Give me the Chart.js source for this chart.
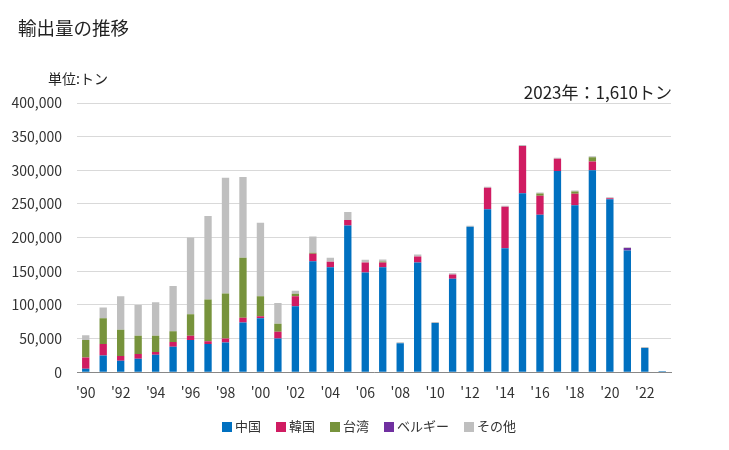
<!DOCTYPE html>
<html lang="ja">
<head>
<meta charset="utf-8">
<script src="https://cdn.jsdelivr.net/npm/chart.js@4/dist/chart.umd.min.js"></script>
<style>
    body { margin: 0; background: #fff; font-family: "Noto Sans CJK JP", sans-serif; }
    #wrap { position: relative; width: 729px; height: 450px; }
    #chart { position: absolute; left: 0; top: 0; }
    .txt { position: absolute; color: #222; white-space: nowrap; }
    #legend { position: absolute; left: 222px; top: 417px; display: flex; font-size: 13px; color: #333; line-height: 18px; }
    #legend .item { display: flex; align-items: center; margin-right: 15px; }
    #legend .box { width: 10px; height: 10px; margin-right: 3px; margin-top: 2px; }
</style>
</head>
<body>
<div id="wrap">
    <canvas id="chart" width="729" height="450"></canvas>
    <div class="txt" style="left:18px; top:14px; font-size:18.5px;">輸出量の推移</div>
    <div class="txt" style="left:48px; top:68px; font-size:14px;">単位:トン</div>
    <div class="txt" style="right:57px; top:79px; font-size:17px;">2023年：1,610トン</div>
    <div id="legend"></div>
</div>
<script>
const years = [];
for (let y = 1990; y <= 2023; y++) years.push(y);

// 単位: トン
const china   = [5000, 25000, 17000, 20000, 26000, 38000, 48000, 42000, 44000, 74000, 80000, 50000, 98000, 165000, 156000, 218000, 148000, 156000, 43000, 163000, 73000, 139000, 216000, 242000, 184000, 266000, 234000, 299000, 248000, 300000, 257000, 181000, 36000, 1400];
const korea   = [17000, 17000, 7000, 7000, 4000, 7000, 6000, 4000, 6000, 7000, 3000, 10000, 15000, 11000, 8000, 8000, 15000, 7000, 0, 9000, 0, 6000, 0, 32000, 62000, 70000, 28000, 18000, 17000, 13000, 1500, 0, 0, 0];
const taiwan  = [26000, 38000, 39000, 27000, 24000, 16000, 32000, 62000, 67000, 89000, 30000, 12000, 3500, 1500, 0, 0, 0, 1500, 0, 0, 0, 0, 0, 0, 0, 0, 3500, 0, 3500, 6500, 0, 0, 0, 0];
const belgium = [0, 0, 0, 0, 0, 0, 0, 0, 0, 0, 0, 0, 0, 0, 0, 0, 0, 0, 0, 0, 0, 0, 0, 0, 0, 0, 0, 0, 0, 0, 0, 3500, 0, 0];
const others  = [7000, 16000, 50000, 46000, 50000, 67000, 114000, 124000, 172000, 120000, 109000, 31000, 4400, 24000, 6000, 12000, 4000, 3000, 1500, 3000, 1500, 2000, 1500, 1500, 1500, 1500, 1500, 1500, 1500, 1500, 1500, 1000, 1400, 210];

const seriesNames = ['中国', '韓国', '台湾', 'ベルギー', 'その他'];
const seriesColors = ['#0070c0', '#d01c62', '#77933c', '#7030a0', '#bfbfbf'];
const seriesData = [china, korea, taiwan, belgium, others];

// 凡例 (HTML)
const legendEl = document.getElementById('legend');
seriesNames.forEach((name, i) => {
    const item = document.createElement('div');
    item.className = 'item';
    item.innerHTML = '<span class="box" style="background:' + seriesColors[i] + '"></span>' + name;
    legendEl.appendChild(item);
});

const ctx = document.getElementById('chart').getContext('2d');
new Chart(ctx, {
    type: 'bar',
    data: {
        labels: years,
        datasets: seriesData.map((d, i) => ({
            label: seriesNames[i],
            data: d,
            backgroundColor: seriesColors[i],
            barPercentage: 0.42,
            categoryPercentage: 1.0
        }))
    },
    options: {
        responsive: false,
        animation: false,
        layout: { padding: { top: 103, right: 58, left: 0, bottom: 37 } },
        plugins: {
            legend: { display: false },
            tooltip: { enabled: false }
        },
        scales: {
            x: {
                stacked: true,
                grid: { display: false, drawTicks: false },
                border: { color: '#888' },
                ticks: {
                    color: '#333',
                    autoSkip: false,
                    maxRotation: 0,
                    padding: 12,
                    font: { size: 14, family: '"Noto Sans CJK JP", sans-serif' },
                    callback: function (val, idx) {
                        const y = years[idx];
                        return (y % 2 === 0 && y < 2023) ? "'" + String(y).slice(2) : '';
                    }
                }
            },
            y: {
                stacked: true,
                min: 0,
                max: 400000,
                afterFit: function (scale) { scale.width = 77; },
                grid: { color: '#d9d9d9', drawTicks: false },
                border: { display: false },
                ticks: {
                    stepSize: 50000,
                    color: '#333',
                    padding: 15,
                    font: { size: 14, family: '"Noto Sans CJK JP", sans-serif' },
                    callback: function (v) { return v.toLocaleString('en-US'); }
                }
            }
        }
    }
});
</script>
</body>
</html>
